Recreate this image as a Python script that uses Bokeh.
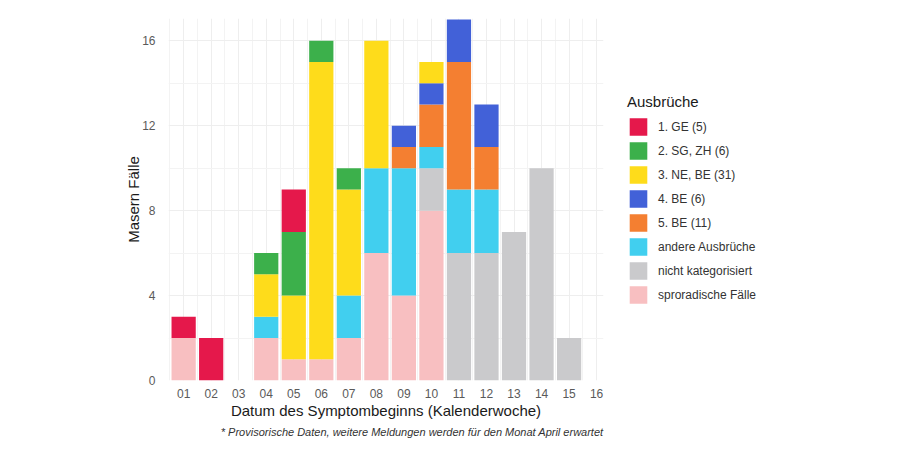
from bokeh.plotting import figure
from bokeh.models import ColumnDataSource, Legend, LegendItem, FixedTicker, Range1d, Title
from bokeh.embed import file_html
from bokeh.resources import INLINE

weeks = list(range(1, 17))
week_labels = [f"{w:02d}" for w in weeks]

sporadisch = [2, 0, 0, 2, 1, 1, 2, 6, 4, 8, 0, 0, 0, 0, 0, 0]
nicht_kat = [0, 0, 0, 0, 0, 0, 0, 0, 0, 2, 6, 6, 7, 10, 2, 0]
andere = [0, 0, 0, 1, 0, 0, 2, 4, 6, 1, 3, 3, 0, 0, 0, 0]
be5 = [0, 0, 0, 0, 0, 0, 0, 0, 1, 2, 6, 2, 0, 0, 0, 0]
be4 = [0, 0, 0, 0, 0, 0, 0, 0, 1, 1, 2, 2, 0, 0, 0, 0]
nebe = [0, 0, 0, 2, 3, 14, 5, 6, 0, 1, 0, 0, 0, 0, 0, 0]
sgzh = [0, 0, 0, 1, 3, 1, 1, 0, 0, 0, 0, 0, 0, 0, 0, 0]
ge = [1, 2, 0, 0, 2, 0, 0, 0, 0, 0, 0, 0, 0, 0, 0, 0]

# stacking order bottom -> top
stack_keys = ["sporadisch", "nicht_kat", "andere", "be5", "be4", "nebe", "sgzh", "ge"]
stack_labels = ["sproradische Fälle", "nicht kategorisiert", "andere Ausbrüche",
                "5. BE (11)", "4. BE (6)", "3. NE, BE (31)", "2. SG, ZH (6)", "1. GE (5)"]
stack_colors = ["#F8BFC1", "#CACACC", "#41CFEF", "#F47F31", "#4261D8",
                "#FEDC1B", "#3CB04B", "#E5184B"]

source = ColumnDataSource(dict(
    week=weeks, sporadisch=sporadisch, nicht_kat=nicht_kat, andere=andere,
    be5=be5, be4=be4, nebe=nebe, sgzh=sgzh, ge=ge))

p = figure(frame_width=435, frame_height=362, output_backend="svg", toolbar_location=None,
           x_range=Range1d(0.45, 16.25), y_range=Range1d(0, 17.05),
           min_border_left=168, min_border_right=270, min_border_top=18,
           min_border_bottom=62)
p.outline_line_color = None
p.background_fill_color = "white"
p.border_fill_color = "white"

renderers = p.vbar_stack(stack_keys, x="week", width=0.88, color=stack_colors,
                         line_color=None, source=source)

items = [LegendItem(label=lab, renderers=[r]) for lab, r in zip(stack_labels, renderers)]
items = items[::-1]
legend = Legend(items=items, location="center_left", orientation="vertical",
                title="Ausbrüche", title_text_font_size="15px",
                title_text_font="Liberation Sans", title_text_color="#1a1a1a",
                title_text_font_style="normal", title_standoff=6,
                label_text_font="Liberation Sans", label_text_font_size="12px",
                label_text_color="#333333", glyph_width=22, glyph_height=22,
                label_height=22, label_standoff=9, spacing=2, padding=0, margin=24,
                border_line_color=None, background_fill_alpha=0)
p.add_layout(legend, "right")

# axes
p.xaxis.ticker = FixedTicker(ticks=weeks, minor_ticks=[w + 0.5 for w in range(0, 17)])
p.xaxis.major_label_overrides = {w: lab for w, lab in zip(weeks, week_labels)}
p.yaxis.ticker = FixedTicker(ticks=[0, 4, 8, 12, 16], minor_ticks=[2, 6, 10, 14])

for ax in (p.xaxis[0], p.yaxis[0]):
    ax.axis_line_color = None
    ax.major_tick_line_color = None
    ax.minor_tick_line_color = None
    ax.major_label_text_font = "Liberation Sans"
    ax.major_label_text_font_size = "12px"
    ax.major_label_text_color = "#5a5a5a"
    ax.axis_label_text_font = "Liberation Sans"
    ax.axis_label_text_font_size = "15px"
    ax.axis_label_text_font_style = "normal"
    ax.axis_label_text_color = "#1a1a1a"

p.xaxis.axis_label = "Datum des Symptombeginns (Kalenderwoche)"
p.yaxis.axis_label = "Masern Fälle"
p.xaxis.major_label_standoff = 2
p.xaxis.axis_label_standoff = 1
p.yaxis.major_label_standoff = 7
p.yaxis.axis_label_standoff = -3

p.xgrid.grid_line_color = "#EEEEEE"
p.xgrid.minor_grid_line_color = "#F3F3F3"
p.ygrid.grid_line_color = "#EEEEEE"
p.ygrid.minor_grid_line_color = "#F3F3F3"

foot = Title(text="* Provisorische Daten, weitere Meldungen werden für den Monat April erwartet",
             align="right", text_font_style="italic", text_font_size="11px",
             text_font="Liberation Sans", text_color="#333333", standoff=4)
p.add_layout(foot, "below")

open("out.html", "w").write(file_html(p, INLINE))
